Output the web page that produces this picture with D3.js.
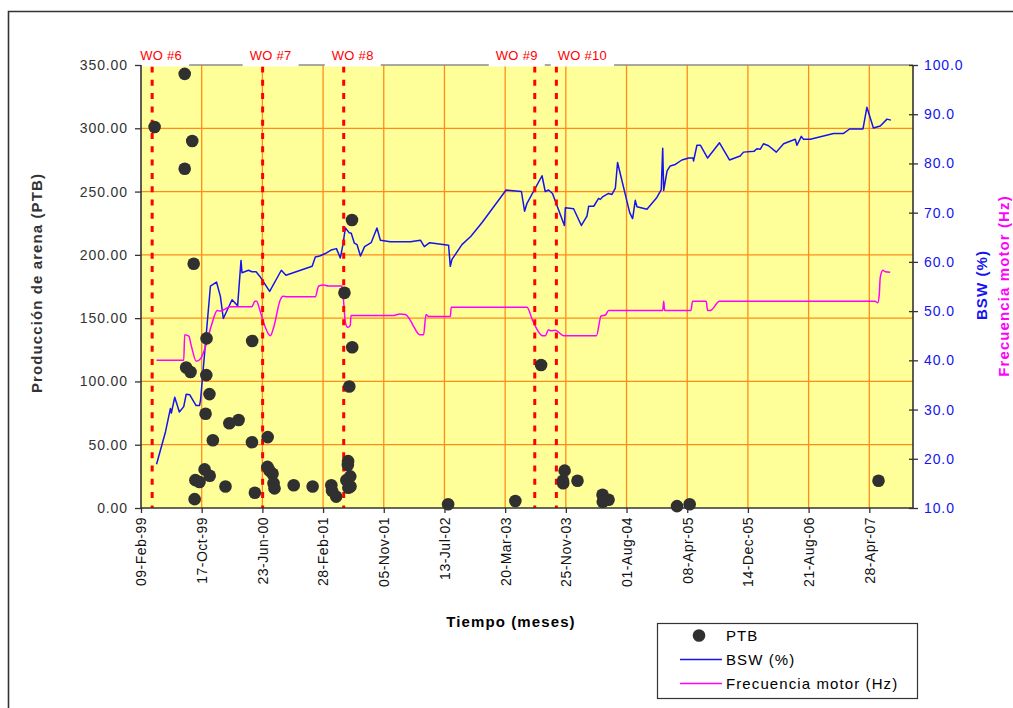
<!DOCTYPE html>
<html>
<head>
<meta charset="utf-8">
<script src="https://cdn.jsdelivr.net/npm/d3@7"></script>
<style>
  body { margin: 0; background: #fff; }
  svg { display: block; font-family: "Liberation Sans", Arial, sans-serif; }
</style>
</head>
<body>
<svg id="chart" width="1013" height="708"></svg>
<script>
// ---- Axis ticks ----
const xTickDates = ["1999-02-09","1999-10-17","2000-06-23","2001-02-28","2001-11-05","2002-07-13",
  "2003-03-20","2003-11-25","2004-08-01","2005-04-08","2005-12-14","2006-08-21","2007-04-28"];
const xDomain = ["1999-02-09", "2007-10-25"];
const leftTicks = [0, 50, 100, 150, 200, 250, 300, 350];
const rightTicks = [10, 20, 30, 40, 50, 60, 70, 80, 90, 100];

// ---- Sand production (PTB) samples ----
const ptbDates = ["1999-04-06","1999-08-08","1999-08-08","1999-09-08","1999-09-14","1999-08-14","1999-09-01",
  "1999-11-06","1999-11-05","1999-11-18","1999-11-02","1999-12-02","2000-02-08","2000-03-17","2000-05-12",
  "2000-05-11","1999-09-21","1999-10-08","1999-09-18","1999-10-29","1999-11-19","2000-01-23","2000-05-23",
  "2000-07-15","2000-07-14","2000-07-22","2000-08-04","2000-08-08","2000-08-12","2000-10-30","2001-01-16",
  "2001-04-03","2001-04-06","2001-04-23","2001-05-27","2001-06-16","2001-06-28","2001-06-27","2001-06-11",
  "2001-06-10","2001-06-04","2001-06-20","2001-06-12","2001-06-21","2002-07-28","2003-05-01","2003-08-15",
  "2003-11-20","2003-11-13","2003-11-14","2004-01-12","2004-04-24","2004-04-25","2004-05-19","2005-02-25",
  "2005-04-18","2007-06-05"];
const ptbValues = [301, 343, 268, 290, 193, 111, 107.5,
  134, 105, 90, 74.5, 53.5, 67, 69.5, 132,
  52, 22, 20.5, 7, 30.5, 25.5, 17, 12,
  56, 32.5, 29.5, 27, 19.5, 15.5, 18, 17,
  18, 13.5, 9, 170, 96, 127, 227.5, 37,
  34, 22, 25, 16, 17, 3, 5.5, 113,
  29.5, 21.5, 19.5, 21.5, 10.5, 5, 6.5, 1.5,
  3, 21.5];

// ---- Water cut BSW (%) ----
const bswDates = ["1999-04-14","1999-05-21","1999-06-10","1999-06-14","1999-06-28","1999-07-17","1999-08-04",
  "1999-08-14","1999-08-29","1999-09-24","1999-10-08","1999-10-12","1999-11-22","1999-12-17","2000-01-02",
  "2000-01-14","2000-02-19","2000-03-13","2000-03-27","2000-03-31","2000-04-27","2000-05-11","2000-05-28",
  "2000-06-12","2000-07-23","2000-09-09","2000-09-28","2001-01-14","2001-01-27","2001-02-14","2001-03-09",
  "2001-04-02","2001-04-24","2001-05-10","2001-05-20","2001-05-31","2001-06-16","2001-06-24","2001-07-07",
  "2001-07-18","2001-08-01","2001-08-18","2001-09-14","2001-10-08","2001-10-22","2001-12-02","2002-02-23",
  "2002-04-05","2002-04-21","2002-05-13","2002-07-30","2002-08-06","2002-08-13","2002-09-23","2002-10-30",
  "2002-12-15","2003-03-24","2003-05-26","2003-06-08","2003-06-18","2003-08-19","2003-09-01","2003-09-15",
  "2003-10-01","2003-11-19","2003-11-23","2003-12-27","2004-01-28","2004-02-20","2004-02-27","2004-03-19",
  "2004-04-08","2004-04-15","2004-04-24","2004-05-19","2004-06-02","2004-06-16","2004-06-25","2004-08-14",
  "2004-08-26","2004-09-06","2004-09-13","2004-10-24","2004-12-04","2004-12-22","2004-12-28","2005-01-01",
  "2005-01-15","2005-01-28","2005-02-18","2005-03-17","2005-04-14","2005-05-02","2005-05-04","2005-05-18",
  "2005-06-01","2005-07-01","2005-08-19","2005-09-29","2005-11-12","2005-11-26","2006-01-09","2006-01-20",
  "2006-02-03","2006-02-16","2006-03-09","2006-04-10","2006-05-10","2006-06-27","2006-07-04","2006-07-22",
  "2006-07-31","2006-08-28","2006-12-02","2007-01-12","2007-02-06","2007-04-02","2007-04-18","2007-05-15",
  "2007-06-12","2007-07-10","2007-07-26"];
const bswValues = [18.9, 25.5, 30.2, 29.3, 32.5, 29.5, 30.6,
  33.1, 33.0, 30.8, 30.8, 31.8, 55.1, 55.9, 53.0,
  48.5, 52.3, 51.1, 60.3, 57.8, 58.3, 58.0, 58.0,
  57.1, 54.0, 58.3, 57.3, 59.1, 61.0, 61.2, 61.7,
  62.4, 62.7, 60.8, 63.3, 66.9, 65.9, 65.8, 63.8,
  63.5, 61.2, 63.1, 63.9, 66.9, 64.4, 64.1, 64.1,
  64.4, 63.1, 63.9, 63.4, 59.1, 60.5, 63.5, 65.2,
  68.0, 74.6, 74.3, 70.3, 71.9, 77.5, 74.3, 74.6,
  73.9, 67.4, 71.0, 70.8, 67.4, 69.3, 71.3, 71.3,
  72.9, 72.7, 73.2, 73.9, 73.7, 75.0, 80.2, 70.0,
  68.8, 72.5, 71.2, 70.7, 73.1, 74.7, 83.1, 74.5,
  78.5, 79.5, 79.8, 80.7, 81.1, 81.1, 80.5, 83.7,
  83.7, 81.1, 84.2, 80.7, 81.5, 82.3, 82.5, 83.0,
  82.9, 84.0, 83.6, 82.3, 84.0, 84.9, 83.7, 85.5,
  84.9, 84.9, 86.1, 86.1, 87.0, 87.0, 91.4, 87.2,
  87.6, 89.0, 88.8];

// ---- Motor frequency (Hz) ----
const freqDates = ["1999-04-14","1999-08-04","1999-08-08","1999-08-25","1999-09-03","1999-09-25","1999-10-12",
  "1999-11-02","1999-11-29","1999-12-20","2000-01-02","2000-02-12","2000-05-11","2000-05-23","2000-05-30",
  "2000-06-12","2000-06-24","2000-07-26","2000-08-08","2000-09-05","2000-09-16","2000-10-03","2001-01-27",
  "2001-02-10","2001-03-02","2001-03-23","2001-05-17","2001-05-24","2001-05-31","2001-06-11","2001-06-20",
  "2001-06-23","2001-12-16","2002-01-09","2002-02-02","2002-02-25","2002-03-08","2002-04-02","2002-04-18",
  "2002-04-28","2002-05-09","2002-08-06","2002-08-10","2003-06-18","2003-07-11","2003-08-21","2003-09-01",
  "2003-09-15","2003-09-25","2003-10-13","2003-11-16","2004-03-30","2004-04-18","2004-05-06","2004-05-19",
  "2004-12-28","2005-01-01","2005-01-05","2005-04-23","2005-04-30","2005-06-25","2005-07-01","2005-07-12",
  "2005-08-19","2007-05-22","2007-06-02","2007-06-08","2007-06-12","2007-06-23","2007-07-03","2007-07-23"];
const freqValues = [40, 40, 45.2, 44.9, 43.2, 39.8, 40.3,
  42.8, 47.6, 50.1, 50, 50.9, 50.9, 52, 52,
  50.3, 48.3, 45, 46.6, 52.3, 53, 52.9, 52.9,
  55.1, 55.3, 55.1, 55.1, 51.7, 47.6, 46.7, 47.1,
  49.1, 49.1, 49.4, 49.3, 47.9, 46.9, 45.2, 45.2,
  49.3, 48.9, 48.9, 50.8, 50.8, 48.1, 45, 45,
  46.2, 46, 46.1, 45, 45, 49, 49.2, 50.1,
  50.1, 52, 50.1, 50.1, 52, 52, 50.1, 50.1,
  52, 52, 51.7, 53.4, 56.8, 58.3, 58, 57.9];

// ---- Workovers ----
const woLabels = ["WO #6", "WO #7", "WO #8", "WO #9", "WO #10"];
const woDates = ["1999-03-27", "2000-06-24", "2001-05-24", "2003-07-20", "2003-10-17"];

const legendLabels = ["PTB", "BSW (%)", "Frecuencia motor (Hz)"];

// ---- Layout & styles ----
const plot = { left: 141, right: 913, top: 65, bottom: 508 };
const woLabelShift = [9, 8, 9, -18, 26];
const font = '"Liberation Sans", Arial, sans-serif';
const gridColor = "#ff8c1a";
const bswColor = "#1414f0";
const freqColor = "#ff00ff";
const dotColor = "#303030";
const axisColor = "#333";

const parse = d3.utcParse("%Y-%m-%d");
const svg = d3.select("#chart");

const x = d3.scaleUtc().domain(xDomain.map(parse)).range([plot.left, plot.right]);
const yL = d3.scaleLinear().domain([0, 350]).range([plot.bottom, plot.top]);
const yR = d3.scaleLinear().domain([10, 100]).range([plot.bottom, plot.top]);

// outer frame (left and top edges)
svg.append("path").attr("d", "M8.5,708V11.5H1013")
  .attr("fill", "none").attr("stroke", axisColor).attr("stroke-width", 1.6);

// plot background
svg.append("rect")
  .attr("x", plot.left).attr("y", plot.top)
  .attr("width", plot.right - plot.left).attr("height", plot.bottom - plot.top)
  .attr("fill", "#ffff99");

// gridlines
const grid = svg.append("g").attr("stroke", gridColor).attr("stroke-width", 1.3);
grid.selectAll(".gh").data(leftTicks.filter(v => v > 0 && v < 350)).join("line")
  .attr("x1", plot.left).attr("x2", plot.right)
  .attr("y1", d => yL(d)).attr("y2", d => yL(d));
grid.selectAll(".gv").data(xTickDates.slice(1).map(parse)).join("line")
  .attr("y1", plot.top).attr("y2", plot.bottom)
  .attr("x1", d => x(d)).attr("x2", d => x(d));

// top border of plot area
svg.append("line")
  .attr("x1", plot.left).attr("x2", plot.right)
  .attr("y1", plot.top).attr("y2", plot.top)
  .attr("stroke", "#8c8c8c").attr("stroke-width", 1.5);

// BSW line
const bsw = bswDates.map((d, i) => [parse(d), bswValues[i]]);
svg.append("path").datum(bsw)
  .attr("fill", "none").attr("stroke", bswColor).attr("stroke-width", 1.5)
  .attr("stroke-linejoin", "round")
  .attr("d", d3.line().x(d => x(d[0])).y(d => yR(d[1])));

// frequency line
const freq = freqDates.map((d, i) => [parse(d), freqValues[i]]);
svg.append("path").datum(freq)
  .attr("fill", "none").attr("stroke", freqColor).attr("stroke-width", 1.5)
  .attr("d", d3.line().curve(d3.curveMonotoneX).x(d => x(d[0])).y(d => yR(d[1])));

// workover markers
const wo = woDates.map((d, i) => ({ date: parse(d), label: woLabels[i], shift: woLabelShift[i] }));
svg.append("g").selectAll("line").data(wo).join("line")
  .attr("x1", d => x(d.date)).attr("x2", d => x(d.date))
  .attr("y1", plot.top + 1.5).attr("y2", plot.bottom)
  .attr("stroke", "#ff0000").attr("stroke-width", 3)
  .attr("stroke-dasharray", "6,7.3");

// PTB points
const ptb = ptbDates.map((d, i) => [parse(d), ptbValues[i]]);
svg.append("g").selectAll("circle").data(ptb).join("circle")
  .attr("cx", d => x(d[0])).attr("cy", d => yL(d[1])).attr("r", 6.3)
  .attr("fill", dotColor);

// workover labels on white boxes
const woG = svg.append("g").selectAll("g").data(wo).join("g")
  .attr("transform", d => `translate(${x(d.date) + d.shift},55)`);
woG.append("rect").attr("fill", "#fff");
woG.append("text")
  .attr("text-anchor", "middle").attr("dy", "0.35em")
  .attr("fill", "#ff0000").attr("font-size", 13).attr("letter-spacing", 0.3)
  .text(d => d.label);
woG.each(function () {
  const g = d3.select(this);
  const w = g.select("text").node().getBBox().width;
  g.select("rect").attr("x", -w / 2 - 7).attr("y", -12).attr("width", w + 14).attr("height", 23.5);
});

// left axis
const axL = svg.append("g").attr("transform", `translate(${plot.left},0)`)
  .call(d3.axisLeft(yL).tickValues(leftTicks).tickFormat(d3.format(".2f"))
    .tickSize(6).tickSizeOuter(0).tickPadding(7));
axL.select(".domain").remove();
axL.selectAll("line").attr("stroke", axisColor).attr("stroke-width", 1.3);
axL.selectAll("text").attr("font-family", font).attr("font-size", 14)
  .attr("letter-spacing", 0.9).attr("fill", axisColor);

// right axis
const axR = svg.append("g").attr("transform", `translate(${plot.right},0)`)
  .call(d3.axisRight(yR).tickValues(rightTicks).tickFormat(d3.format(".1f"))
    .tickSize(5).tickSizeOuter(0).tickPadding(6));
axR.select(".domain").remove();
axR.selectAll("line").attr("x1", -4).attr("stroke", axisColor).attr("stroke-width", 1.3);
axR.selectAll("text").attr("font-family", font).attr("font-size", 14)
  .attr("letter-spacing", 0.9).attr("fill", bswColor);

// bottom axis
const axB = svg.append("g").attr("transform", `translate(0,${plot.bottom})`)
  .call(d3.axisBottom(x).tickValues(xTickDates.map(parse)).tickFormat(d3.utcFormat("%d-%b-%y"))
    .tickSize(5).tickSizeOuter(0));
axB.select(".domain").remove();
axB.selectAll("line").attr("stroke", axisColor).attr("stroke-width", 1.3);
axB.selectAll("text")
  .attr("font-family", font).attr("font-size", 14).attr("letter-spacing", 0.5).attr("fill", "#111")
  .attr("transform", "rotate(-90)")
  .attr("x", -9).attr("y", 0).attr("dy", "0.35em")
  .style("text-anchor", "end");

// axis lines
const axisLines = svg.append("g").attr("stroke", axisColor).attr("stroke-width", 1.6);
axisLines.append("line").attr("x1", plot.left).attr("x2", plot.left).attr("y1", plot.top).attr("y2", plot.bottom + 0.8);
axisLines.append("line").attr("x1", plot.right).attr("x2", plot.right).attr("y1", plot.top).attr("y2", plot.bottom + 0.8);
axisLines.append("line").attr("x1", plot.left).attr("x2", plot.right).attr("y1", plot.bottom).attr("y2", plot.bottom);

// axis titles
const title = (tx, ty, rot, txt, color) => svg.append("text")
  .attr("transform", `translate(${tx},${ty}) rotate(${rot})`)
  .attr("text-anchor", "middle").attr("dy", "0.35em")
  .attr("font-family", font).attr("font-size", 15).attr("font-weight", "bold")
  .attr("letter-spacing", 1.1).attr("fill", color).text(txt);
title(37, 283, -90, "Producción de arena (PTB)", axisColor);
title(982, 285, -90, "BSW (%)", bswColor);
title(1004, 286, -90, "Frecuencia motor (Hz)", freqColor);
title(511, 622, 0, "Tiempo (meses)", "#000");

// legend
const lg = svg.append("g").attr("transform", "translate(657,623)");
lg.append("rect").attr("x", 0.5).attr("y", 0.5).attr("width", 260).attr("height", 75)
  .attr("fill", "#fff").attr("stroke", axisColor).attr("stroke-width", 1.2);
const rows = lg.selectAll("g.row").data(legendLabels).join("g")
  .attr("transform", (d, i) => `translate(0,${12.5 + i * 24})`);
rows.append("text").attr("x", 69).attr("dy", "0.35em")
  .attr("font-family", font).attr("font-size", 15).attr("letter-spacing", 1.1)
  .attr("fill", "#000").text(d => d);
rows.filter((d, i) => i === 0).append("circle").attr("cx", 42).attr("r", 6.3).attr("fill", dotColor);
rows.filter((d, i) => i > 0).append("line")
  .attr("x1", 23).attr("x2", 65)
  .attr("stroke", (d, i) => i === 0 ? bswColor : freqColor).attr("stroke-width", 1.5);
</script>
</body>
</html>
